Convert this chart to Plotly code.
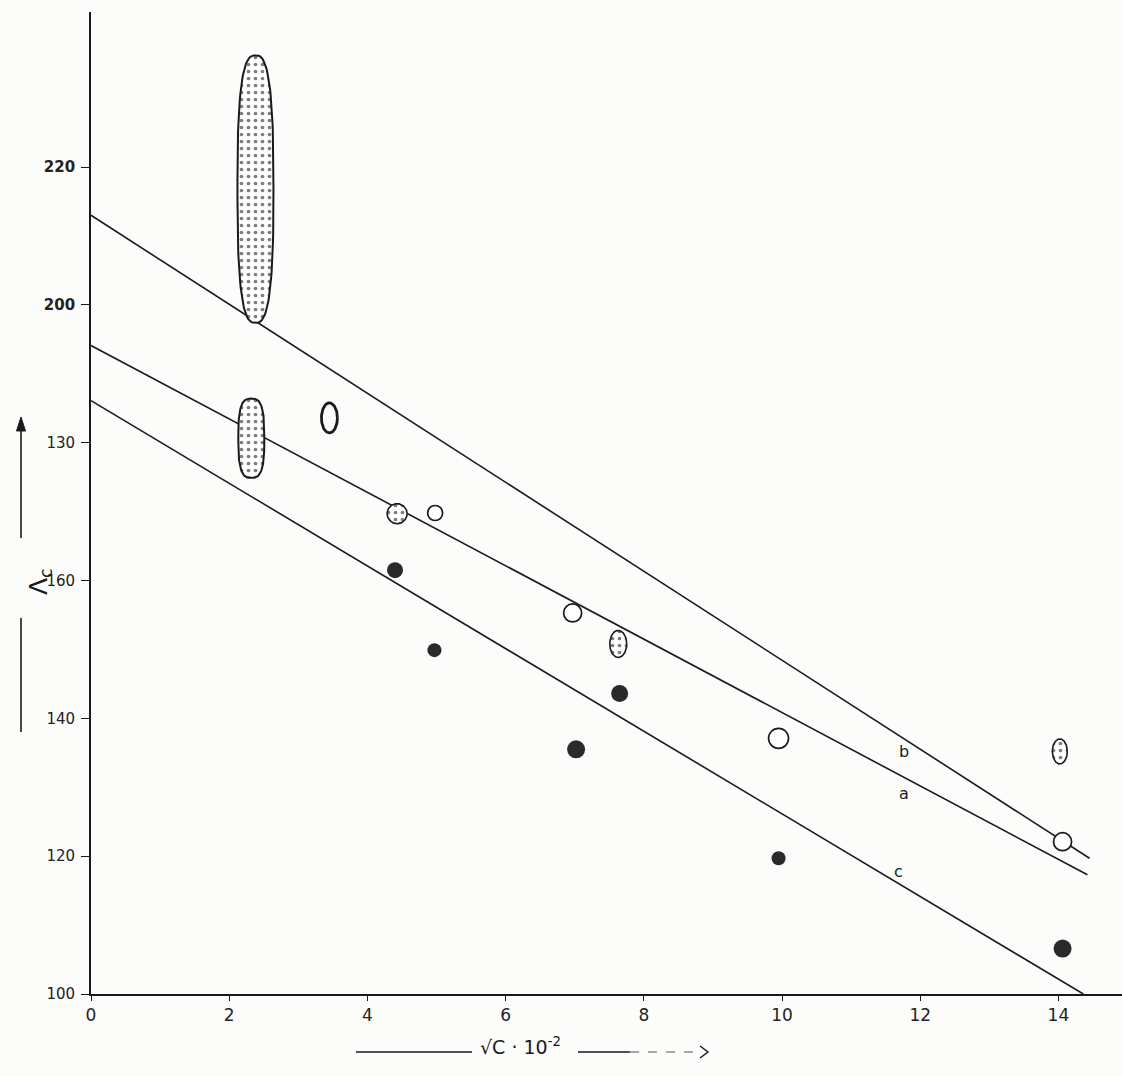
import numpy as np
import plotly.graph_objects as go

# ---- axes ----
x_tickvals = [0, 2, 4, 6, 8, 10, 12, 14]
y_tickvals = [100, 120, 140, 160, 180, 200, 220]
y_ticktext = ["100", "120", "140", "160", "130", "<b>200</b>", "<b>220</b>"]
X_RANGE = [0, 14.92]
Y_RANGE = [100, 242.5]

# ---- straight lines a, b, c (start / end) ----
line_names = ["a", "b", "c"]
line_x = [[0, 14.42], [0, 14.45], [0, 14.36]]
line_y = [[194.1, 117.3], [213.0, 119.7], [186.1, 100.0]]
label_x = [11.76, 11.76, 11.68]
label_y = [129.1, 135.2, 117.8]

# ---- open circles ----
open_x = [4.98, 6.97, 9.95, 14.06]
open_y = [169.8, 155.3, 137.1, 122.1]

# ---- filled points ----
filled_x = [4.40, 4.97, 7.02, 7.65, 9.95, 14.06]
filled_y = [161.5, 149.9, 135.5, 143.6, 119.7, 106.6]

# ---- stippled points ----
stip_x = [4.43, 7.63, 14.02]
stip_y = [169.7, 150.8, 135.2]

# ---- stippled ranges (vertical bands) ----
band_x = [2.38, 2.32]
band_lo = [197.4, 174.9]
band_hi = [236.2, 186.4]

# ---- open oval ----
oval_x = [3.45]
oval_y = [183.6]

# figure geometry
W, H = 1122, 1076
ML, MR, MT, MB = 91, 0, 12, 82
PW, PH = W - ML - MR, H - MT - MB
px_x = (X_RANGE[1] - X_RANGE[0]) / PW   # data units per pixel
px_y = (Y_RANGE[1] - Y_RANGE[0]) / PH

INK = "#1a1a1a"
DOTS = dict(shape=".", size=7, solidity=0.22, fgcolor="#000", bgcolor="white")


def outline(cx, cy, rx, ry, p=2.0, n=120):
    t = np.linspace(0, 2 * np.pi, n)
    c, s = np.cos(t), np.sin(t)
    x = cx + rx * np.sign(c) * np.abs(c) ** (2 / p)
    y = cy + ry * np.sign(s) * np.abs(s) ** (2 / p)
    return x, y


fig = go.Figure()

for name, xs, ys in zip(line_names, line_x, line_y):
    fig.add_trace(go.Scatter(x=xs, y=ys, mode="lines", name=name,
                             line=dict(color=INK, width=1.6), hoverinfo="skip"))

# stippled bands
band_w = [36, 26]
band_p = [2.8, 3.0]
for bx, lo, hi, w, p in zip(band_x, band_lo, band_hi, band_w, band_p):
    x, y = outline(bx, (lo + hi) / 2, w / 2 * px_x, (hi - lo) / 2, p)
    fig.add_trace(go.Scatter(x=x, y=y, mode="lines", fill="toself",
                             fillcolor="white", fillpattern=DOTS,
                             line=dict(color=INK, width=2), hoverinfo="skip"))

# stippled points
stip_w = [20, 17, 15]
stip_h = [20, 27, 25]
for sx, sy, w, h in zip(stip_x, stip_y, stip_w, stip_h):
    x, y = outline(sx, sy, w / 2 * px_x, h / 2 * px_y)
    fig.add_trace(go.Scatter(x=x, y=y, mode="lines", fill="toself",
                             fillcolor="white", fillpattern=DOTS,
                             line=dict(color=INK, width=1.6), hoverinfo="skip"))

# open oval
for ox, oy in zip(oval_x, oval_y):
    x, y = outline(ox, oy, 8 * px_x, 15 * px_y)
    fig.add_trace(go.Scatter(x=x, y=y, mode="lines",
                             line=dict(color=INK, width=2.8), hoverinfo="skip"))

fig.add_trace(go.Scatter(x=open_x, y=open_y, mode="markers",
                         marker=dict(symbol="circle", size=[15, 18, 20, 18],
                                     color="white", opacity=1,
                                     line=dict(color=INK, width=1.7)),
                         hoverinfo="skip"))

fig.add_trace(go.Scatter(x=filled_x, y=filled_y, mode="markers",
                         marker=dict(symbol="circle", size=[16, 14, 18, 17, 14, 18],
                                     color="#2a2a2a", opacity=1,
                                     line=dict(width=0)),
                         hoverinfo="skip"))

for name, lx, ly in zip(line_names, label_x, label_y):
    fig.add_annotation(x=lx, y=ly, text=name, showarrow=False,
                       font=dict(family="DejaVu Sans", size=16, color=INK))


def paper(px, py):
    return (px - ML) / PW, (H - MB - py) / PH


def seg(p0, p1, **line):
    x0, y0 = paper(*p0)
    x1, y1 = paper(*p1)
    fig.add_shape(type="line", xref="paper", yref="paper",
                  x0=x0, y0=y0, x1=x1, y1=y1, line=line)


def poly(points, closed, fill=None, width=1.5):
    coords = [paper(px, py) for px, py in points]
    d = "M " + " L ".join(f"{x:.5f},{y:.5f}" for x, y in coords)
    if closed:
        d += " Z"
    fig.add_shape(type="path", xref="paper", yref="paper", path=d,
                  fillcolor=fill if fill else "rgba(0,0,0,0)",
                  line=dict(color=INK, width=width))


# y-axis title with upward arrow
seg((21, 732), (21, 618), color=INK, width=1.6)
seg((21, 538), (21, 428), color=INK, width=1.6)
poly([(21, 417), (16.5, 431), (25.5, 431)], closed=True, fill=INK, width=1)
lx, ly = paper(22, 582)
fig.add_annotation(xref="paper", yref="paper", x=lx, y=ly, text="Λ<sub>c</sub>",
                   showarrow=False, textangle=-90,
                   font=dict(family="DejaVu Sans", size=25, color=INK))

# x-axis title with arrow to the right
seg((356, 1052), (472, 1052), color=INK, width=1.6)
seg((578, 1052), (630, 1052), color=INK, width=1.6)
seg((630, 1052), (702, 1052), color="#555", width=1.2, dash="dash")
poly([(700, 1046), (708, 1052), (700, 1058)], closed=False, width=1.5)
cx, cy = paper(520, 1060)
fig.add_annotation(xref="paper", yref="paper", x=cx, y=cy,
                   text="√C · 10<sup>-2</sup>", showarrow=False,
                   font=dict(family="DejaVu Sans", size=19, color=INK))

fig.update_xaxes(range=X_RANGE, tickvals=x_tickvals, showline=True, linecolor=INK,
                 linewidth=1.6, ticks="outside", ticklen=5, tickwidth=1.2,
                 tickcolor=INK, showgrid=False, zeroline=False,
                 tickfont=dict(family="DejaVu Sans", size=17, color="#222"))
fig.update_yaxes(range=Y_RANGE, tickvals=y_tickvals, ticktext=y_ticktext,
                 showline=True, linecolor=INK, linewidth=1.8, ticks="outside",
                 ticklen=8, tickwidth=1.2, tickcolor=INK, showgrid=False,
                 zeroline=False, ticklabelstandoff=3,
                 tickfont=dict(family="DejaVu Sans", size=15, color="#222"))

fig.update_layout(width=W, height=H, margin=dict(l=ML, r=MR, t=MT, b=MB),
                  paper_bgcolor="#fcfcfb", plot_bgcolor="#fcfcfb",
                  showlegend=False)

fig.write_html("out.html")
